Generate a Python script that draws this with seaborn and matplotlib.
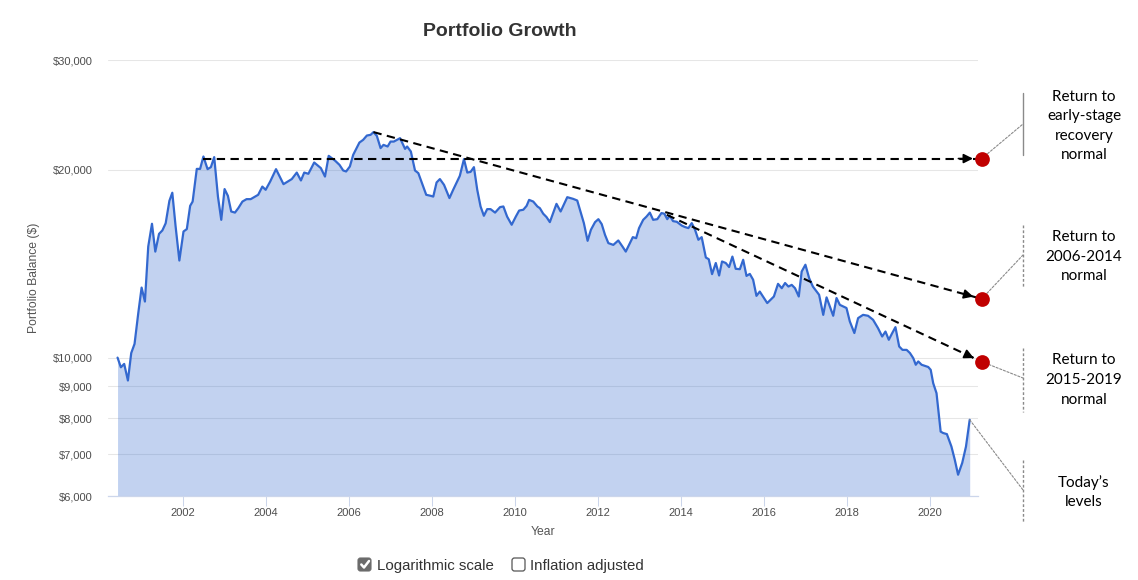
import numpy as np
import pandas as pd
import matplotlib
matplotlib.use("Agg")
import matplotlib.pyplot as plt
import matplotlib.ticker as mticker
from matplotlib.patches import FancyBboxPatch
from matplotlib.lines import Line2D
import seaborn as sns

# ---------------- data ----------------
years = [
    2000.42, 2000.50, 2000.58, 2000.67, 2000.75, 2000.83, 2000.92, 2001.00, 2001.08, 2001.16,
    2001.25, 2001.33, 2001.42, 2001.50, 2001.58, 2001.67, 2001.74, 2001.82, 2001.91, 2002.01,
    2002.09, 2002.17, 2002.23, 2002.33, 2002.41, 2002.49, 2002.59, 2002.67, 2002.75, 2002.84,
    2002.92, 2003.00, 2003.08, 2003.16, 2003.25, 2003.33, 2003.43, 2003.53, 2003.63, 2003.71,
    2003.81, 2003.91, 2003.99, 2004.10, 2004.24, 2004.42, 2004.62, 2004.74, 2004.84, 2004.92,
    2005.02, 2005.16, 2005.32, 2005.42, 2005.51, 2005.66, 2005.77, 2005.86, 2005.93, 2006.02,
    2006.10, 2006.25, 2006.34, 2006.43, 2006.52, 2006.59, 2006.67, 2006.76, 2006.83, 2006.93,
    2007.00, 2007.08, 2007.23, 2007.28, 2007.35, 2007.40, 2007.49, 2007.59, 2007.67, 2007.86,
    2007.97, 2008.03, 2008.11, 2008.19, 2008.29, 2008.42, 2008.51, 2008.67, 2008.77, 2008.85,
    2008.93, 2009.01, 2009.09, 2009.17, 2009.25, 2009.33, 2009.41, 2009.52, 2009.64, 2009.72,
    2009.81, 2009.92, 2010.02, 2010.10, 2010.20, 2010.28, 2010.34, 2010.44, 2010.54, 2010.60,
    2010.68, 2010.76, 2010.84, 2010.92, 2011.00, 2011.10, 2011.26, 2011.40, 2011.50, 2011.57,
    2011.66, 2011.75, 2011.83, 2011.93, 2012.01, 2012.09, 2012.17, 2012.25, 2012.37, 2012.49,
    2012.59, 2012.67, 2012.75, 2012.84, 2012.92, 2012.99, 2013.09, 2013.17, 2013.25, 2013.33,
    2013.43, 2013.53, 2013.60, 2013.67, 2013.73, 2013.81, 2013.90, 2014.02, 2014.10, 2014.18,
    2014.26, 2014.34, 2014.42, 2014.50, 2014.60, 2014.67, 2014.75, 2014.84, 2014.92, 2014.99,
    2015.08, 2015.16, 2015.24, 2015.32, 2015.42, 2015.50, 2015.58, 2015.66, 2015.74, 2015.82,
    2015.90, 2016.00, 2016.08, 2016.16, 2016.24, 2016.34, 2016.43, 2016.51, 2016.59, 2016.67,
    2016.75, 2016.84, 2016.91, 2017.00, 2017.09, 2017.18, 2017.33, 2017.43, 2017.51, 2017.59,
    2017.67, 2017.75, 2017.83, 2017.91, 2017.99, 2018.07, 2018.18, 2018.27, 2018.39, 2018.51,
    2018.63, 2018.75, 2018.85, 2018.93, 2019.01, 2019.09, 2019.17, 2019.26, 2019.34, 2019.44,
    2019.52, 2019.60, 2019.66, 2019.72, 2019.80, 2019.88, 2019.96, 2020.02, 2020.08, 2020.16,
    2020.26, 2020.32, 2020.41, 2020.52, 2020.60, 2020.68, 2020.78, 2020.87, 2020.96,
]
balance = [
    10000, 9650, 9770, 9190, 10170, 10520, 11790, 12950, 12300, 15070,
    16390, 14790, 15790, 15990, 16420, 17840, 18380, 16220, 14310, 15930,
    16070, 17510, 17790, 20070, 20070, 21010, 20050, 20200, 20960, 18120,
    16630, 18630, 18170, 17150, 17080, 17360, 17790, 17950, 17950, 18080,
    18240, 18800, 18580, 19160, 20050, 18970, 19330, 19800, 19230, 19800,
    19710, 20550, 20130, 19510, 21060, 20700, 20370, 19950, 19880, 20250,
    21140, 22120, 22340, 22700, 22760, 22990, 22670, 21670, 21930, 21800,
    22200, 22200, 22480, 22120, 21610, 21800, 21400, 19950, 19760, 18240,
    18170, 18120, 19090, 19330, 18920, 18020, 18580, 19560, 20810, 19800,
    19850, 20200, 18580, 17470, 16880, 17300, 17300, 17080, 17430, 17470,
    16830, 16330, 16830, 17210, 17260, 17510, 17900, 17790, 17470, 17360,
    17010, 16800, 16490, 17050, 17640, 17150, 18080, 17970, 17860, 17210,
    16430, 15390, 16030, 16490, 16670, 16370, 15730, 15260, 15160, 15410,
    15070, 14790, 15160, 15600, 15540, 16130, 16630, 16830, 17080, 16630,
    16670, 17050, 17010, 16670, 16880, 16550, 16510, 16280, 16190, 16130,
    16430, 16030, 15450, 15600, 14470, 14380, 13610, 14180, 13540, 14260,
    14180, 13970, 14520, 13880, 13860, 14350, 13520, 13620, 13330, 12560,
    12760, 12460, 12230, 12380, 12530, 13130, 12920, 13170, 13000, 13080,
    12920, 12530, 13740, 14090, 13410, 13000, 12610, 11710, 12490, 12080,
    11670, 12460, 12150, 12080, 12010, 11430, 10950, 11570, 11710, 11670,
    11500, 11150, 10810, 11010, 10680, 10940, 11190, 10420, 10290, 10290,
    10170, 9980, 9740, 9860, 9740, 9700, 9660, 9560, 9100, 8770,
    7610, 7570, 7540, 7200, 6860, 6490, 6780, 7200, 7950,
]

trend_start_year = [2002.49, 2006.59, 2013.66]
trend_start_value = [20850, 22990, 16940]
target_year = 2021.25
target_value = [20850, 12420, 9850]
target_labels = [
    "Return to\nearly-stage\nrecovery\nnormal",
    "Return to\n2006-2014\nnormal",
    "Return to\n2015-2019\nnormal",
]
today_label = "Today\u2019s\nlevels"
y_ticks = [6000, 7000, 8000, 9000, 10000, 20000, 30000]
x_ticks = list(range(2002, 2021, 2))
title = "Portfolio Growth"
x_title = "Year"
y_title = "Portfolio Balance ($)"
checkbox_labels = ["Logarithmic scale", "Inflation adjusted"]

# ---------------- style ----------------
sns.set_theme(style="white")
plt.rcParams["font.family"] = ["Liberation Sans", "DejaVu Sans"]

W, H = 1138, 580
fig = plt.figure(figsize=(W / 100, H / 100), dpi=100)
fig.patch.set_facecolor("white")


def fx(x):
    return x / W


def fy(y):
    return 1 - y / H


ax = fig.add_axes([fx(108), fy(496), fx(978) - fx(108), fy(60) - fy(496)])
ax.set_facecolor("white")

df = pd.DataFrame({"Year": years, "Balance": balance})

ax.set_yscale("log")
ax.set_xlim(2000.19, 2021.16)
ax.set_ylim(6000, 30000)

ax.fill_between(df["Year"], df["Balance"], 6000, color="#3a6fd0", alpha=0.31,
                linewidth=0, zorder=2)
sns.lineplot(data=df, x="Year", y="Balance", ax=ax, color="#3368cf",
             linewidth=1.6, estimator=None, zorder=3)

# axes styling
ax.yaxis.set_major_locator(mticker.FixedLocator(y_ticks))
ax.yaxis.set_minor_locator(mticker.NullLocator())
ax.yaxis.set_major_formatter(mticker.FuncFormatter(lambda v, p: f"${v:,.0f}"))
ax.xaxis.set_major_locator(mticker.FixedLocator(x_ticks))
ax.xaxis.set_major_formatter(mticker.FuncFormatter(lambda v, p: f"{int(round(v))}"))
ax.xaxis.set_minor_locator(mticker.NullLocator())

ax.grid(False)
ax.yaxis.grid(True, color="#e6e6e6", linewidth=0.75, zorder=1)
ax.set_axisbelow(True)
for s in ["top", "right", "left"]:
    ax.spines[s].set_visible(False)
ax.spines["bottom"].set_color("#ccd6eb")
ax.spines["bottom"].set_linewidth(0.9)

ax.tick_params(axis="y", length=0, pad=11, labelsize=8, labelcolor="#4d4d4d")
ax.tick_params(axis="x", direction="out", length=7.2, width=0.75, color="#ccd6eb",
               pad=1.5, labelsize=8, labelcolor="#4d4d4d", bottom=True)
ax.set_xlabel(x_title, fontsize=8.7, color="#555555", labelpad=6)
ax.set_ylabel(y_title, fontsize=8.7, color="#555555", labelpad=9)

# ---------------- trend arrows ----------------
for sx, sv, tv in zip(trend_start_year, trend_start_value, target_value):
    ax.plot([sx, target_year], [sv, tv], color="black", linewidth=1.5,
            linestyle=(0, (4, 2.6)), clip_on=False, zorder=5)
    f = 0.97
    hx = sx + f * (target_year - sx)
    hv = float(np.exp(np.log(sv) + f * (np.log(tv) - np.log(sv))))
    ax.annotate("", xy=(target_year, tv), xytext=(hx, hv), xycoords="data",
                textcoords="data", annotation_clip=False, zorder=6,
                arrowprops=dict(arrowstyle="-|>", color="black", lw=1.2,
                                shrinkA=0, shrinkB=6.3, mutation_scale=14))
    ax.plot([target_year], [tv], marker="o", markersize=10.6, color="#c00000",
            markeredgewidth=0, linestyle="none", clip_on=False, zorder=7)

# ---------------- callouts ----------------
gray = "#8a8a8a"
conn_targets = [(1023, 124), (1023, 255), (1023, 378)]
for tv, (px, py) in zip(target_value, conn_targets):
    ax.annotate("", xy=(fx(px), fy(py)), xycoords="figure fraction",
                xytext=(target_year, tv), textcoords="data", annotation_clip=False,
                arrowprops=dict(arrowstyle="-", color=gray, lw=0.8,
                                linestyle=(0, (2, 1.5)), shrinkA=5.5, shrinkB=0))
ax.annotate("", xy=(fx(1023), fy(490)), xycoords="figure fraction",
            xytext=(years[-1], balance[-1]), textcoords="data", annotation_clip=False,
            arrowprops=dict(arrowstyle="-", color=gray, lw=0.8,
                            linestyle=(0, (2, 1.5)), shrinkA=0, shrinkB=0))

bars = [(93, 155, "-"), (225, 287, (0, (2, 1.5))), (348, 412, (0, (2, 1.5))),
        (460, 522, (0, (2, 1.5)))]
for y0, y1, ls in bars:
    fig.add_artist(Line2D([fx(1023), fx(1023)], [fy(y0), fy(y1)], color=gray,
                          linewidth=1.0, linestyle=ls))

label_centers = [126, 257, 380]
for lab, cy in zip(target_labels, label_centers):
    fig.text(fx(1084), fy(cy), lab, ha="center", va="center", fontsize=11,
             family=["Lato", "DejaVu Sans"], linespacing=1.5, color="black")
fig.text(fx(1084), fy(492), today_label, ha="center", va="center", fontsize=11,
         family=["Lato", "DejaVu Sans"], linespacing=1.5, color="black")

# ---------------- title ----------------
fig.text(fx(500), fy(31), title, ha="center", va="center", fontsize=14,
         fontweight="bold", color="#333333")

# ---------------- checkboxes ----------------
def pxbox(x, y):
    return (x / 100, (H - y) / 100)


cb = FancyBboxPatch(pxbox(358, 571), 0.13, 0.13,
                    boxstyle="round,pad=0,rounding_size=0.025",
                    facecolor="#6b6b6b", edgecolor="#6b6b6b", linewidth=0.8,
                    transform=fig.dpi_scale_trans)
fig.add_artist(cb)
ck = [pxbox(361.3, 564.5), pxbox(364, 567.5), pxbox(369, 561)]
fig.add_artist(Line2D([p[0] for p in ck], [p[1] for p in ck], color="white",
                      linewidth=1.8, transform=fig.dpi_scale_trans,
                      solid_capstyle="round", solid_joinstyle="round"))
ub = FancyBboxPatch(pxbox(512, 571), 0.13, 0.13,
                    boxstyle="round,pad=0,rounding_size=0.025",
                    facecolor="white", edgecolor="#555555", linewidth=0.9,
                    transform=fig.dpi_scale_trans)
fig.add_artist(ub)
fig.text(fx(377), fy(566), checkbox_labels[0], ha="left", va="center",
         fontsize=10.8, color="#333333")
fig.text(fx(530), fy(566), checkbox_labels[1], ha="left", va="center",
         fontsize=10.8, color="#333333")

fig.savefig("out.png", dpi=100, facecolor="white")
